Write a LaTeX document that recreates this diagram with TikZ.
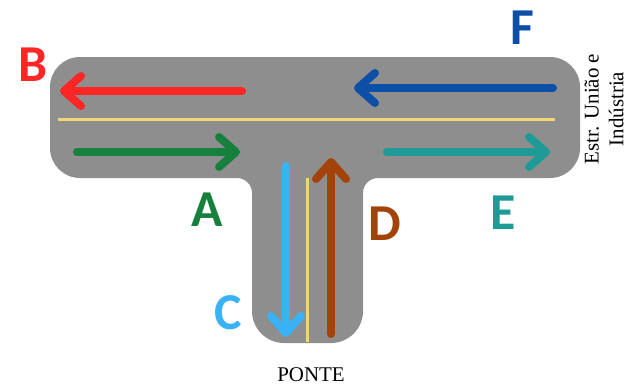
\documentclass[tikz,border=0pt]{standalone}
\usepackage{fontspec}
\setmainfont{Liberation Serif}
\newfontfamily\lblfont{Carlito}
\usetikzlibrary{arrows.meta}
\definecolor{road}{HTML}{8E8E8E}
\definecolor{lane}{HTML}{F2D675}
\definecolor{cB}{HTML}{FF2626}
\definecolor{cF}{HTML}{0D4FA6}
\definecolor{cA}{HTML}{17803C}
\definecolor{cE}{HTML}{1F9A96}
\definecolor{cD}{HTML}{A3430A}
\definecolor{cC}{HTML}{3AB2F8}
\tikzset{
  flow/.style={line width=8bp, line cap=round, -{Straight Barb[length=17bp,width=30bp,round]}},
  laneline/.style={lane, line width=3bp},
  letter/.style={font=\lblfont\bfseries\fontsize{52}{52}\selectfont, inner sep=0pt},
  caption/.style={font=\fontsize{21}{25}\selectfont, inner sep=0pt, align=center}
}
\begin{document}
\begin{tikzpicture}[x=1bp,y=1bp]
\useasboundingbox (0,0) rectangle (630,387);
% road shape
\fill[road] (80,330) -- (550,330) arc (90:0:30) -- (580,239) arc (0:-90:30)
  -- (378,209) arc (90:180:15) -- (363,76) arc (0:-90:32) -- (284,44)
  arc (270:180:32) -- (252,194) arc (0:90:15) -- (80,209) arc (270:180:30)
  -- (50,300) arc (180:90:30) -- cycle;
% lane markings
\coordinate (hl) at (58,268); \coordinate (hr) at (555,268);
\coordinate (vt) at (307,209); \coordinate (vb) at (307,45);
\draw[laneline] (hl) -- (hr);
\draw[laneline] (vt) -- (vb);
% flows
\coordinate (Bs) at (242,296); \coordinate (Be) at (60,296);
\coordinate (Fs) at (553,299); \coordinate (Fe) at (354,299);
\coordinate (As) at (77,235);  \coordinate (Ae) at (240,235);
\coordinate (Es) at (387,235); \coordinate (Ee) at (550,235);
\coordinate (Cs) at (286,221); \coordinate (Ce) at (286,50);
\coordinate (Ds) at (331,53);  \coordinate (De) at (331,229);
\draw[flow, cB] (Bs) -- (Be);
\draw[flow, cF] (Fs) -- (Fe);
\draw[flow, cA] (As) -- (Ae);
\draw[flow, cE] (Es) -- (Ee);
\draw[flow, cC] (Cs) -- (Ce);
\draw[flow, cD] (Ds) -- (De);
% letters
\node[letter, text=cB] (lB) at (33,322) {B};
\node[letter, text=cF] (lF) at (522,359) {F};
\node[letter, text=cA] (lA) at (207,177) {A};
\node[letter, text=cE] (lE) at (503,174) {E};
\node[letter, text=cD] (lD) at (385,163) {D};
\node[letter, text=cC] (lC) at (228,74) {C};
% captions
\node[caption] (ponte) at (311,12) {PONTE};
\node[caption, rotate=90] (estr) at (604,278) {Estr. União e\\Indústria};
\end{tikzpicture}
\end{document}
